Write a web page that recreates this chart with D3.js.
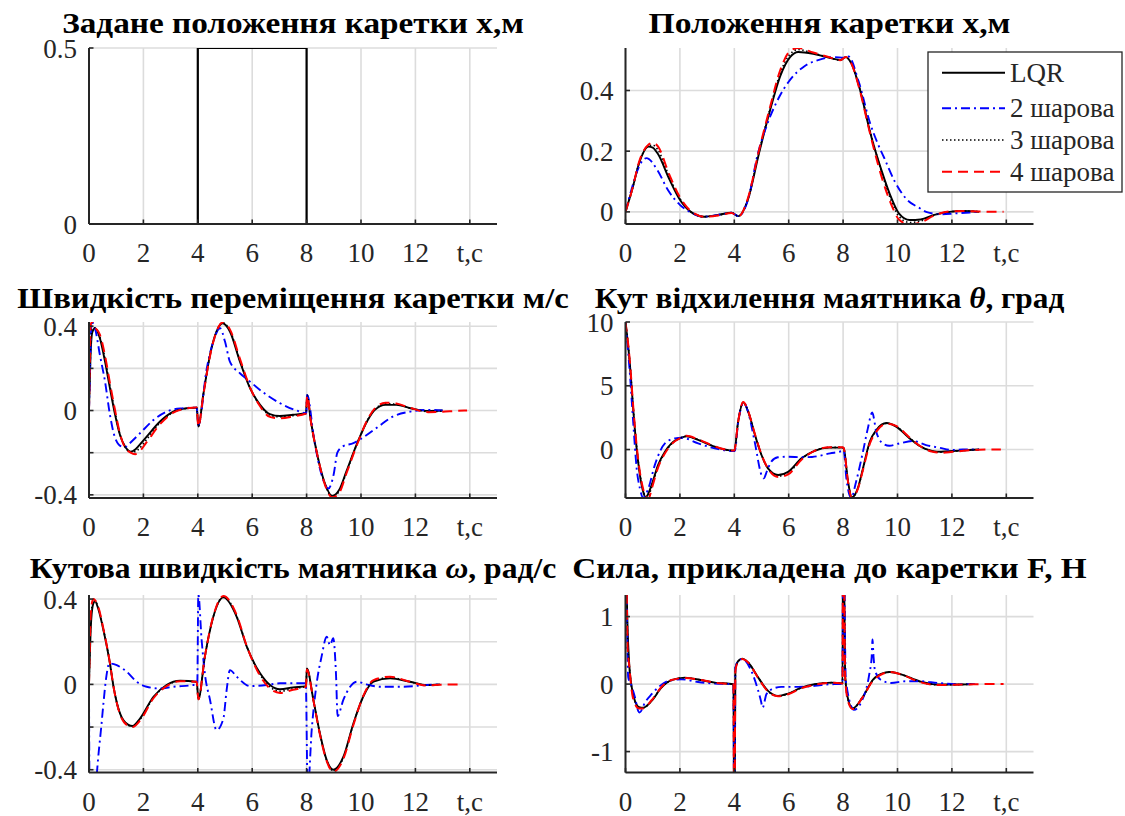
<!DOCTYPE html>
<html><head><meta charset="utf-8">
<script src="https://cdn.jsdelivr.net/npm/d3@7"></script>
<style>body{margin:0;background:#fff} svg{display:block} text{font-family:'Liberation Serif','Times New Roman',serif}</style>
</head><body><svg id="c" width="1125" height="816"></svg>
<script>
// ---------- DATA ----------
const xTickVals = [0, 2, 4, 6, 8, 10, 12, 14];
const xTickLabels = ["0", "2", "4", "6", "8", "10", "12", "t,с"];
const seriesNames = ["LQR", "2 шарова", "3 шарова", "4 шарова"];

// panel 1: reference position
const refT = [0, 4, 4, 8, 8, 13.8];
const refX = [0, 0, 0.5, 0.5, 0, 0];

// panel 2: cart position
const posT = [0, 0.25, 0.5, 0.85, 1.0, 1.2, 1.6, 2.0, 2.4, 2.9, 3.4, 3.9, 4.15, 4.5, 4.9, 5.3, 5.7, 6.05, 6.35, 6.9, 7.4, 7.9, 8.1, 8.3, 8.6, 9.0, 9.4, 9.8, 10.05, 10.45, 10.85, 11.35, 11.9, 12.4, 13.0, 13.5, 13.9];
const posLQR = [0, 0.075, 0.16, 0.215, 0.212, 0.19, 0.11, 0.04, 0.0, -0.016, -0.01, -0.003, -0.014, 0.04, 0.19, 0.33, 0.45, 0.51, 0.527, 0.521, 0.51, 0.501, 0.51, 0.49, 0.41, 0.26, 0.14, 0.04, -0.005, -0.027, -0.025, -0.01, 0.0, 0.003, 0.0, null, null];
const posL3 = [0, 0.075, 0.162, 0.218, 0.22, 0.203, 0.118, 0.044, 0.001, -0.016, -0.011, -0.003, -0.014, 0.042, 0.195, 0.335, 0.46, 0.52, 0.535, 0.523, 0.511, 0.5, 0.51, 0.49, 0.41, 0.265, 0.135, 0.03, -0.015, -0.035, -0.03, -0.011, 0.0, 0.003, 0.001, null, null];
const posL4 = [0, 0.075, 0.165, 0.222, 0.228, 0.215, 0.125, 0.048, 0.003, -0.016, -0.012, -0.004, -0.015, 0.045, 0.2, 0.34, 0.47, 0.53, 0.54, 0.525, 0.512, 0.5, 0.51, 0.49, 0.405, 0.255, 0.12, 0.018, -0.025, -0.042, -0.035, -0.012, 0.001, 0.003, 0.001, 0.0, 0.0];
const posT2 = [0, 0.25, 0.5, 0.77, 1.17, 1.56, 2.0, 2.36, 2.88, 3.4, 3.9, 4.15, 4.5, 4.87, 5.27, 5.66, 6.05, 6.58, 7.11, 7.65, 8.04, 8.2, 8.57, 9.0, 9.25, 9.5, 9.9, 10.3, 10.82, 11.08, 11.61, 12.14, 13.0];
const posL2 = [0, 0.083, 0.15, 0.177, 0.138, 0.072, 0.023, 0.0, -0.016, -0.01, -0.003, -0.014, 0.039, 0.193, 0.303, 0.38, 0.435, 0.48, 0.501, 0.51, 0.508, 0.512, 0.43, 0.29, 0.23, 0.18, 0.1, 0.045, 0.012, -0.001, -0.008, -0.005, 0.0];

// panel 3: cart velocity
const velT = [0, 0.07, 0.12, 0.22, 0.4, 0.59, 0.77, 0.96, 1.14, 1.32, 1.53, 1.7, 1.81, 2.12, 2.61, 3.1, 3.59, 3.96, 4.02, 4.2, 4.45, 4.69, 4.91, 5.18, 5.55, 5.92, 6.29, 6.65, 7.02, 7.5, 7.98, 8.02, 8.15, 8.41, 8.67, 8.94, 9.2, 9.46, 9.86, 10.25, 10.51, 10.9, 11.3, 11.82, 12.48, 13.0, 13.5, 13.9];
const velLQR = [0, 0.3, 0.37, 0.39, 0.343, 0.232, 0.106, -0.02, -0.116, -0.17, -0.195, -0.185, -0.17, -0.124, -0.052, -0.005, 0.011, 0.014, -0.076, 0.074, 0.264, 0.375, 0.414, 0.375, 0.232, 0.106, 0.027, -0.017, -0.026, -0.02, -0.013, 0.074, -0.045, -0.22, -0.345, -0.405, -0.376, -0.29, -0.155, -0.045, 0.003, 0.027, 0.027, 0.011, -0.002, 0.0, null, null];
const velL3 = [0, 0.33, 0.39, 0.392, 0.35, 0.245, 0.118, -0.01, -0.113, -0.172, -0.197, -0.195, -0.185, -0.137, -0.058, -0.008, 0.01, 0.014, -0.076, 0.072, 0.262, 0.375, 0.416, 0.38, 0.238, 0.108, 0.024, -0.022, -0.03, -0.024, -0.013, 0.072, -0.045, -0.22, -0.347, -0.408, -0.383, -0.295, -0.157, -0.043, 0.006, 0.032, 0.03, 0.011, -0.005, -0.003, null, null];
const velL4 = [0, 0.41, 0.42, 0.395, 0.36, 0.26, 0.13, 0.0, -0.11, -0.175, -0.2, -0.207, -0.2, -0.15, -0.065, -0.01, 0.01, 0.014, -0.076, 0.07, 0.26, 0.375, 0.418, 0.385, 0.245, 0.11, 0.02, -0.03, -0.037, -0.028, -0.014, 0.07, -0.045, -0.22, -0.35, -0.412, -0.39, -0.3, -0.16, -0.04, 0.01, 0.037, 0.033, 0.012, -0.008, -0.006, -0.002, 0.0];
const velT2 = [0, 0.03, 0.1, 0.22, 0.4, 0.59, 0.77, 0.96, 1.2, 1.35, 1.5, 1.875, 2.37, 2.86, 3.35, 3.96, 4.02, 4.33, 4.57, 4.82, 5.0, 5.18, 5.55, 5.92, 6.53, 7.02, 7.63, 7.99, 8.02, 8.28, 8.54, 8.8, 9.0, 9.13, 9.33, 9.72, 10.12, 10.64, 11.17, 11.82, 12.48, 13.0];
const velL2 = [0, 0.15, 0.42, 0.39, 0.264, 0.137, -0.02, -0.13, -0.17, -0.172, -0.155, -0.108, -0.045, -0.005, 0.01, 0.014, -0.07, 0.2, 0.327, 0.39, 0.327, 0.232, 0.177, 0.137, 0.074, 0.035, 0.0, -0.013, 0.074, -0.14, -0.3, -0.37, -0.3, -0.2, -0.17, -0.155, -0.124, -0.076, -0.029, -0.005, 0.003, 0.0];

// panel 4: pendulum angle
const thT = [0, 0.165, 0.29, 0.41, 0.53, 0.65, 0.74, 0.85, 0.96, 1.2, 1.45, 1.69, 2.06, 2.24, 2.67, 3.28, 3.96, 4.0, 4.14, 4.33, 4.51, 4.76, 5.0, 5.24, 5.61, 5.98, 6.47, 6.95, 7.5, 7.97, 8.02, 8.18, 8.32, 8.54, 8.73, 8.98, 9.22, 9.6, 9.95, 10.44, 10.8, 11.3, 11.6, 12.03, 12.64, 13.0, 13.4, 13.8];
const thLQR = [10, 6.6, 2.97, 0.09, -2.0, -3.3, -3.75, -3.4, -2.78, -1.2, -0.17, 0.48, 0.93, 1.03, 0.75, 0.22, -0.09, -0.09, 2.18, 3.7, 2.97, 1.14, -0.43, -1.48, -2.0, -1.74, -0.69, -0.1, 0.15, 0.15, 0.1, -2.5, -3.75, -3.05, -1.48, 0.61, 1.53, 2.08, 1.8, 0.88, 0.3, -0.12, -0.17, -0.12, -0.04, 0.0, null, null];
const thL3 = [10, 6.7, 3.1, 0.2, -1.9, -3.2, -3.72, -3.6, -2.95, -1.3, -0.25, 0.44, 0.94, 1.05, 0.78, 0.23, -0.08, -0.08, 2.16, 3.71, 2.99, 1.17, -0.41, -1.49, -2.08, -1.85, -0.75, -0.1, 0.17, 0.17, 0.11, -2.5, -3.78, -3.08, -1.55, 0.52, 1.47, 2.05, 1.83, 0.92, 0.31, -0.15, -0.21, -0.15, -0.05, -0.01, null, null];
const thL4 = [10, 6.8, 3.2, 0.3, -1.8, -3.1, -3.7, -3.85, -3.1, -1.4, -0.3, 0.4, 0.95, 1.08, 0.8, 0.25, -0.08, -0.08, 2.15, 3.72, 3.0, 1.2, -0.4, -1.5, -2.15, -1.95, -0.8, -0.1, 0.18, 0.18, 0.12, -2.5, -3.8, -3.1, -1.6, 0.45, 1.4, 2.02, 1.85, 0.95, 0.32, -0.18, -0.25, -0.18, -0.06, -0.02, 0.0, 0.0];
const thT2 = [0, 0.165, 0.29, 0.41, 0.53, 0.65, 0.84, 1.08, 1.45, 1.82, 2.06, 2.67, 3.28, 3.98, 4.02, 4.14, 4.35, 4.55, 4.75, 5.0, 5.08, 5.2, 5.36, 5.6, 5.98, 6.47, 6.86, 7.52, 7.98, 8.02, 8.12, 8.3, 8.48, 8.73, 8.91, 9.07, 9.22, 9.46, 9.7, 10.07, 10.56, 11.05, 11.54, 12.03, 12.4, 13.0];
const thL2 = [10, 5.84, 1.92, -1.48, -3.05, -3.78, -3.05, -1.2, 0.48, 0.88, 0.93, 0.48, 0.09, -0.12, -0.1, 2.1, 3.65, 2.6, 0.6, -2.0, -2.26, -1.7, -0.95, -0.61, -0.56, -0.6, -0.58, -0.3, -0.09, -0.05, -2.26, -3.78, -2.5, -0.17, 1.66, 2.9, 1.4, 0.48, 0.3, 0.48, 0.67, 0.35, 0.14, -0.04, 0.0, 0.0];

// panel 5: pendulum angular velocity
const omT = [0, 0.08, 0.16, 0.22, 0.35, 0.53, 0.77, 0.9, 1.14, 1.45, 1.6, 1.875, 2.37, 2.85, 3.35, 3.96, 4.02, 4.26, 4.57, 4.94, 5.43, 5.8, 6.29, 7.02, 7.5, 7.98, 8.01, 8.25, 8.49, 8.74, 8.98, 9.35, 9.72, 10.08, 10.46, 11.07, 11.8, 12.41, 12.9, 13.3, 13.76];
const omLQR = [0, 0.3, 0.38, 0.39, 0.35, 0.255, 0.098, -0.01, -0.136, -0.19, -0.195, -0.16, -0.058, -0.003, 0.017, 0.0125, -0.07, 0.13, 0.317, 0.408, 0.317, 0.177, 0.052, -0.023, -0.014, -0.008, 0.075, -0.073, -0.23, -0.355, -0.4, -0.34, -0.183, -0.058, 0.0125, 0.028, 0.0125, -0.003, 0.0, null, null];
const omL3 = [0, 0.33, 0.39, 0.392, 0.355, 0.258, 0.099, -0.01, -0.138, -0.192, -0.198, -0.165, -0.062, -0.006, 0.016, 0.012, -0.07, 0.13, 0.318, 0.411, 0.321, 0.178, 0.046, -0.032, -0.02, -0.009, 0.072, -0.074, -0.232, -0.357, -0.405, -0.345, -0.186, -0.056, 0.016, 0.032, 0.012, -0.004, -0.001, null, null];
const omL4 = [0, 0.36, 0.4, 0.395, 0.36, 0.26, 0.1, -0.01, -0.14, -0.195, -0.2, -0.17, -0.065, -0.008, 0.015, 0.012, -0.07, 0.13, 0.32, 0.414, 0.325, 0.18, 0.04, -0.04, -0.025, -0.01, 0.07, -0.075, -0.235, -0.36, -0.41, -0.35, -0.19, -0.055, 0.02, 0.036, 0.012, -0.005, -0.002, 0.0, 0.0];
const omT2 = [0, 0.02, 0.15, 0.27, 0.34, 0.45, 0.53, 0.62, 0.75, 1.02, 1.38, 1.75, 2.12, 2.6, 3.1, 3.84, 3.98, 4.02, 4.14, 4.26, 4.45, 4.69, 4.94, 5.06, 5.18, 5.43, 5.92, 6.53, 7.02, 7.5, 7.97, 8.04, 8.19, 8.37, 8.55, 8.74, 8.86, 8.98, 9.08, 9.14, 9.35, 9.6, 9.85, 10.2, 10.7, 11.56, 12.41, 12.97];
const omL2 = [0, -0.5, -0.7, -0.45, -0.34, -0.2, -0.09, 0.02, 0.098, 0.09, 0.06, 0.0125, -0.011, -0.019, -0.011, -0.003, 0.0, 0.42, 0.21, 0.05, -0.073, -0.214, -0.16, -0.027, 0.067, 0.036, -0.008, -0.003, 0.005, 0.005, 0.005, -0.5, -0.21, 0.005, 0.13, 0.223, 0.184, 0.216, 0.05, -0.148, -0.073, -0.011, 0.0125, 0.0, -0.011, -0.011, -0.003, 0.0];

// panel 6: force on the cart
const fT = [0, 0.04, 0.08, 0.13, 0.23, 0.35, 0.5, 0.65, 0.96, 1.33, 1.69, 2.18, 2.8, 3.28, 3.97, 4.0, 4.04, 4.14, 4.29, 4.51, 4.88, 5.24, 5.61, 5.98, 6.47, 6.95, 7.57, 7.98, 8.0, 8.08, 8.2, 8.35, 8.71, 9.1, 9.5, 9.72, 10.16, 10.82, 11.48, 12.15, 12.8, 13.3, 13.9];
const fLQR = [3, 1.5, 0.79, 0.34, -0.05, -0.25, -0.34, -0.35, -0.25, -0.05, 0.057, 0.096, 0.057, 0.022, -0.002, -3, 0.24, 0.34, 0.378, 0.32, 0.096, -0.1, -0.175, -0.14, -0.052, -0.002, 0.022, 0.01, 3, 0.1, -0.25, -0.36, -0.2, 0.067, 0.165, 0.18, 0.14, 0.04, -0.007, -0.007, 0.0, null, null];
const fL3 = [3, 1.55, 0.65, 0.32, -0.07, -0.27, -0.35, -0.355, -0.245, -0.045, 0.058, 0.093, 0.058, 0.021, -0.003, -3, 0.22, 0.335, 0.374, 0.32, 0.093, -0.105, -0.178, -0.145, -0.056, -0.006, 0.021, 0.01, 3, 0.08, -0.26, -0.365, -0.2, 0.06, 0.162, 0.18, 0.14, 0.035, -0.011, -0.008, -0.001, null, null];
const fL4 = [3, 1.6, 0.5, 0.3, -0.1, -0.3, -0.36, -0.36, -0.24, -0.04, 0.06, 0.09, 0.06, 0.02, -0.005, -3, 0.2, 0.33, 0.37, 0.32, 0.09, -0.11, -0.18, -0.15, -0.06, -0.01, 0.02, 0.01, 3, 0.05, -0.28, -0.37, -0.2, 0.05, 0.16, 0.18, 0.14, 0.03, -0.015, -0.01, -0.003, 0.0, 0.0];
const fT2 = [0, 0.05, 0.1, 0.2, 0.35, 0.47, 0.52, 0.72, 0.96, 1.2, 1.57, 2.06, 2.67, 3.28, 3.97, 4.0, 4.04, 4.14, 4.3, 4.63, 4.88, 4.98, 5.04, 5.18, 5.36, 5.73, 6.34, 6.95, 7.57, 7.98, 8.0, 8.1, 8.4, 8.71, 8.97, 9.05, 9.08, 9.12, 9.17, 9.37, 9.76, 10.29, 10.82, 11.48, 12.15, 13.0];
const fL2 = [3, 1.1, 0.1, 0.0, -0.2, -0.4, -0.42, -0.27, -0.15, -0.05, 0.047, 0.07, 0.03, 0.007, 0.0, -3, 0.24, 0.34, 0.37, 0.19, -0.1, -0.25, -0.35, -0.15, -0.08, -0.042, -0.042, -0.027, -0.002, 0.0, 3, 0.05, -0.38, -0.23, 0.165, 0.4, 0.66, 0.4, 0.21, 0.067, 0.017, 0.042, 0.042, 0.017, 0.0, 0.0];

// ---------- STYLES / LAYOUT ----------
const AX = '#262626', GRID = '#dcdcdc';
const styles = {
  lqr: {stroke: '#000000', dash: null, w: 1.9},
  l2:  {stroke: '#0000ff', dash: '9,4,2,4', w: 1.9},
  l3:  {stroke: '#000000', dash: '1.5,2.5', w: 1.6},
  l4:  {stroke: '#ff0000', dash: '10,6', w: 2}
};
const colX = [89, 625.5], plotW = 408;
const rows = [{top: 48, bot: 224, tb: 33}, {top: 322, bot: 498, tb: 308}, {top: 595, bot: 772.5, tb: 578}];

function S(t, v, st) { return {pts: t.map((d, i) => [d, v[i]]), st: st}; }

const panels = [
  {c: 0, r: 0, title: ['Задане положення каретки х,м'], tw: 462, dom: [0, 0.5], ticks: [0, 0.5], labs: ['0', '0.5'],
   lines: [S(refT, refX, styles.lqr)], linear: true},
  {c: 1, r: 0, title: ['Положення каретки х,м'], tw: 362, dom: [-0.04, 0.54], ticks: [0, 0.2, 0.4], labs: ['0', '0.2', '0.4'],
   lines: [S(posT, posLQR, styles.lqr), S(posT2, posL2, styles.l2), S(posT, posL3, styles.l3), S(posT, posL4, styles.l4)], legend: true},
  {c: 0, r: 1, title: ['Швидкість переміщення каретки м/с'], tw: 552, dom: [-0.415, 0.42], ticks: [-0.4, -0.2, 0, 0.2, 0.4], labs: ['-0.4', '', '0', '', '0.4'],
   lines: [S(velT, velLQR, styles.lqr), S(velT2, velL2, styles.l2), S(velT, velL3, styles.l3), S(velT, velL4, styles.l4)]},
  {c: 1, r: 1, title: ['Кут відхилення маятника ', 'θ', ', град'], tw: 470, dom: [-3.8, 10], ticks: [0, 5, 10], labs: ['0', '5', '10'],
   lines: [S(thT, thLQR, styles.lqr), S(thT2, thL2, styles.l2), S(thT, thL3, styles.l3), S(thT, thL4, styles.l4)]},
  {c: 0, r: 2, title: ['Кутова швидкість маятника ', 'ω', ', рад/с'], tw: 527, dom: [-0.413, 0.419], ticks: [-0.4, -0.2, 0, 0.2, 0.4], labs: ['-0.4', '', '0', '', '0.4'],
   lines: [S(omT, omLQR, styles.lqr), S(omT2, omL2, styles.l2), S(omT, omL3, styles.l3), S(omT, omL4, styles.l4)]},
  {c: 1, r: 2, title: ['Сила, прикладена до каретки F, Н'], tw: 515, dom: [-1.31, 1.32], ticks: [-1, 0, 1], labs: ['-1', '0', '1'],
   lines: [S(fT, fLQR, styles.lqr), S(fT2, fL2, styles.l2), S(fT, fL3, styles.l3), S(fT, fL4, styles.l4)]}
];

const svg = d3.select('#c');
const defs = svg.append('defs');

panels.forEach((p, pi) => {
  const x0 = colX[p.c], R = rows[p.r];
  const x = d3.scaleLinear().domain([0, 15]).range([x0, x0 + plotW]);
  const y = d3.scaleLinear().domain(p.dom).range([R.bot, R.top]);
  const g = svg.append('g');

  // grid
  g.selectAll('.vg').data(xTickVals).enter().append('line')
    .attr('x1', d => x(d)).attr('x2', d => x(d)).attr('y1', R.top).attr('y2', R.bot)
    .attr('stroke', GRID).attr('stroke-width', 1.6);
  g.selectAll('.hg').data(p.ticks).enter().append('line')
    .attr('x1', x0).attr('x2', x0 + plotW).attr('y1', d => y(d)).attr('y2', d => y(d))
    .attr('stroke', GRID).attr('stroke-width', 1.6);

  // lines
  const cid = 'clip' + pi;
  defs.append('clipPath').attr('id', cid).append('rect')
    .attr('x', x0).attr('y', R.top).attr('width', plotW).attr('height', R.bot - R.top);
  const line = d3.line().defined(d => d[1] !== null).x(d => x(d[0])).y(d => y(d[1]))
    .curve(p.linear ? d3.curveLinear : d3.curveMonotoneX);
  const lg = g.append('g').attr('clip-path', `url(#${cid})`);
  p.lines.forEach(s => {
    lg.append('path').attr('d', line(s.pts)).attr('fill', 'none')
      .attr('stroke', s.st.stroke).attr('stroke-width', p.linear ? 2.2 : s.st.w)
      .attr('stroke-dasharray', s.st.dash).attr('stroke-linejoin', 'round');
  });

  // axes
  g.append('line').attr('x1', x0).attr('x2', x0).attr('y1', R.top).attr('y2', R.bot)
    .attr('stroke', AX).attr('stroke-width', 2);
  g.append('line').attr('x1', x0).attr('x2', x0 + plotW).attr('y1', R.bot).attr('y2', R.bot)
    .attr('stroke', AX).attr('stroke-width', 2);
  // ticks
  g.selectAll('.xt').data(xTickVals).enter().append('line')
    .attr('x1', d => x(d)).attr('x2', d => x(d)).attr('y1', R.bot).attr('y2', R.bot - 4.5)
    .attr('stroke', AX).attr('stroke-width', 1.6);
  g.selectAll('.yt').data(p.ticks).enter().append('line')
    .attr('x1', x0).attr('x2', x0 + 4.5).attr('y1', d => y(d)).attr('y2', d => y(d))
    .attr('stroke', AX).attr('stroke-width', 1.6);
  // tick labels
  g.selectAll('.xl').data(xTickVals).enter().append('text')
    .attr('x', d => x(d)).attr('y', R.bot + 38).attr('text-anchor', 'middle')
    .attr('font-size', 27).attr('fill', AX).text((d, i) => xTickLabels[i]);
  g.selectAll('.yl').data(p.ticks).enter().append('text')
    .attr('x', x0 - 12).attr('y', d => y(d) + 9.5).attr('text-anchor', 'end')
    .attr('font-size', 27).attr('fill', AX).text((d, i) => p.labs[i]);

  // title, widened horizontally to the reference's span
  const t = g.append('text').attr('text-anchor', 'middle')
    .attr('font-size', 29).attr('font-weight', 'bold').attr('fill', '#000');
  p.title.forEach((s, i) => {
    const ts = t.append('tspan').text(s);
    if (i === 1) ts.attr('font-style', 'italic');
  });
  const bw = t.node().getBBox().width || p.tw;
  const sx = p.tw / bw;
  t.attr('transform', `translate(${x0 + plotW / 2},${R.tb}) scale(${sx},1)`);

  // legend
  if (p.legend) {
    const lgd = g.append('g');
    lgd.append('rect').attr('x', 928).attr('y', 52).attr('width', 194).attr('height', 140)
      .attr('fill', '#fff').attr('stroke', AX).attr('stroke-width', 1.3);
    const ys = [72.7, 108.3, 140, 171.7];
    const sts = [styles.lqr, styles.l2, styles.l3, styles.l4];
    seriesNames.forEach((n, i) => {
      lgd.append('line').attr('x1', 942).attr('x2', 1005).attr('y1', ys[i]).attr('y2', ys[i])
        .attr('stroke', sts[i].stroke).attr('stroke-width', sts[i].w).attr('stroke-dasharray', sts[i].dash);
      lgd.append('text').attr('x', 1010).attr('y', ys[i] + 9).attr('font-size', 27).attr('fill', AX).text(n);
    });
  }
});
</script></body></html>
